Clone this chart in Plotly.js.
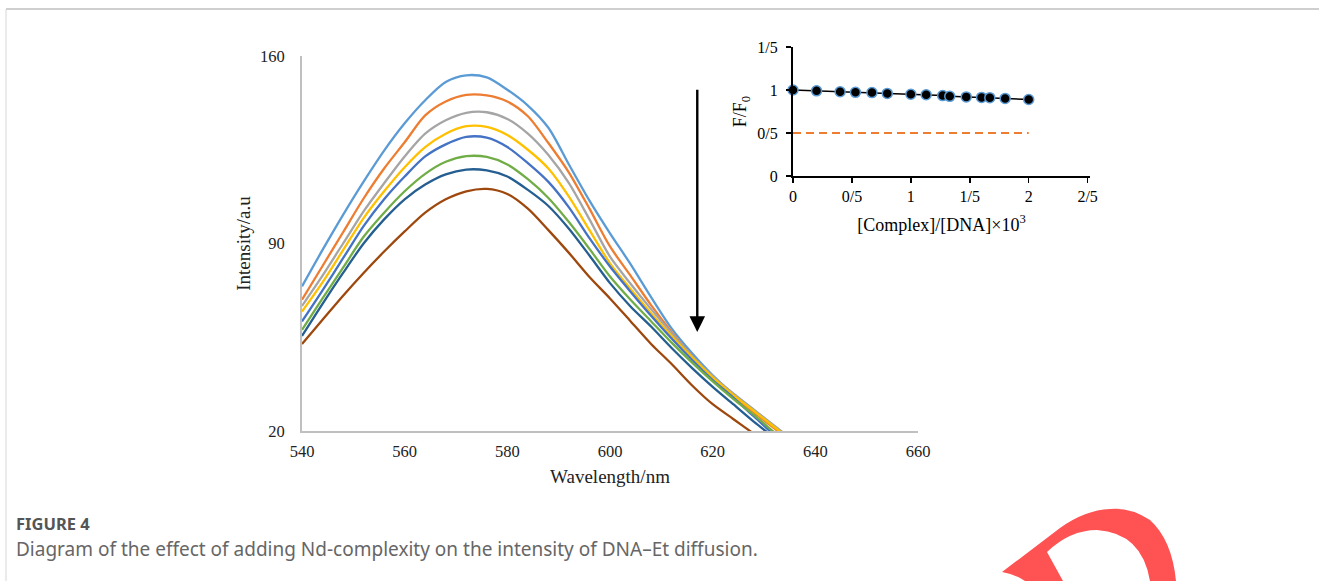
<!DOCTYPE html>
<html>
<head>
<meta charset="utf-8">
<script src="https://cdn.plot.ly/plotly-3.0.1.min.js"></script>
<style>
  html, body { margin: 0; padding: 0; background: #ffffff; }
  #chart { width: 1319px; height: 581px; }
</style>
</head>
<body>
<div id="chart"></div>
<script>
// ---------- main spectra data ----------
const wavelength = [540, 544, 548, 552, 556, 560, 564, 568, 572, 576, 580, 584, 588, 592, 596, 600, 604, 608, 612, 616, 620, 624, 628, 632, 636];
const intensity1 = [74.0, 87.6, 100.7, 113.1, 124.7, 134.9, 143.5, 150.3, 152.8, 152.0, 147.4, 141.5, 133.2, 119.5, 106.0, 93.8, 82.3, 70.0, 58.3, 49.0, 40.8, 33.8, 27.9, 21.7, 15.0];
const intensity2 = [69.0, 81.6, 94.2, 106.8, 118.0, 127.8, 137.8, 143.0, 145.5, 145.3, 143.0, 137.5, 127.5, 116.5, 103.0, 88.9, 78.0, 67.0, 57.0, 48.0, 40.0, 33.0, 27.0, 21.0, 15.0];
const intensity3 = [66.7, 78.0, 90.0, 102.0, 112.5, 122.5, 131.0, 136.0, 138.8, 139.0, 136.5, 131.0, 123.0, 112.5, 99.0, 85.1, 75.0, 65.5, 56.5, 48.0, 40.5, 34.0, 28.0, 22.0, 16.0];
const intensity4 = [64.6, 75.5, 87.5, 99.5, 109.5, 118.5, 126.0, 131.0, 133.8, 133.5, 130.5, 125.0, 118.0, 107.5, 95.0, 82.6, 73.0, 64.0, 55.5, 47.5, 40.0, 33.5, 27.5, 21.5, 15.5];
const intensity5 = [60.9, 72.5, 84.5, 96.5, 106.5, 115.0, 122.5, 127.0, 129.8, 129.5, 126.0, 120.0, 113.0, 103.5, 92.0, 81.4, 72.0, 63.0, 54.5, 46.5, 39.0, 32.5, 25.5, 18.5, 12.0];
const intensity6 = [57.8, 69.5, 81.0, 92.5, 101.5, 109.5, 116.0, 120.5, 122.6, 122.3, 119.5, 114.0, 107.0, 98.0, 88.0, 77.7, 69.0, 61.0, 53.0, 45.5, 38.5, 32.0, 26.0, 19.5, 13.0];
const intensity7 = [55.5, 67.5, 79.0, 90.0, 99.0, 106.5, 112.0, 115.8, 117.6, 117.3, 115.0, 110.0, 104.0, 95.5, 85.5, 75.2, 66.5, 59.0, 51.0, 43.5, 36.5, 30.0, 23.5, 17.5, 11.5];
const intensity8 = [52.5, 61.5, 70.5, 79.0, 87.0, 94.5, 101.5, 106.5, 109.5, 110.4, 108.5, 103.0, 95.0, 86.5, 77.5, 69.5, 61.0, 52.5, 45.0, 37.0, 30.0, 24.5, 19.0, 13.5, 8.0];

const mainXTicks = [540, 560, 580, 600, 620, 640, 660];
const mainYTicks = [20, 90, 160];

// arrow (start / end intensity at the arrow wavelength)
const arrowWavelength = [617];
const arrowFrom = [148];
const arrowTo = [57];

// ---------- inset data ----------
const ratio = [0, 0.2, 0.4, 0.53, 0.67, 0.8, 1.0, 1.13, 1.27, 1.33, 1.47, 1.6, 1.67, 1.8, 2.0];
const fOverF0 = [1.0, 0.99, 0.98, 0.973, 0.97, 0.96, 0.95, 0.945, 0.935, 0.926, 0.92, 0.914, 0.911, 0.902, 0.89];
const refLineX = [0, 2];
const refLineY = [0.5, 0.5];
const insetXTicks = [0, 0.5, 1, 1.5, 2, 2.5];
const insetXTickText = ['0', '0/5', '1', '1/5', '2', '2/5'];
const insetYTicks = [0, 0.5, 1, 1.5];
const insetYTickText = ['0', '0/5', '1', '1/5'];

// ---------- styling ----------
const W = 1319, H = 581;
const serif = 'Liberation Serif, Times New Roman, serif';
const sans = 'Noto Sans, Open Sans, sans-serif';
const seriesColors = ['#5B9BD5', '#ED7D31', '#A5A5A5', '#FFC000', '#4472C4', '#70AD47', '#255E91', '#9E480E'];
const seriesData = [intensity1, intensity2, intensity3, intensity4, intensity5, intensity6, intensity7, intensity8];

const px = x => x / W;
const py = y => 1 - y / H;

const traces = seriesData.map((ys, i) => ({
  type: 'scatter', mode: 'lines', x: wavelength, y: ys,
  line: { color: seriesColors[i], width: 2.3, shape: 'spline', smoothing: 0.8 },
  xaxis: 'x', yaxis: 'y', hoverinfo: 'skip', showlegend: false
}));

traces.push({
  type: 'scatter', mode: 'lines', x: refLineX, y: refLineY,
  line: { color: '#ED7D31', width: 2, dash: '8px,5px' },
  xaxis: 'x2', yaxis: 'y2', showlegend: false, hoverinfo: 'skip'
});
traces.push({
  type: 'scatter', mode: 'lines+markers', x: ratio, y: fOverF0,
  line: { color: '#000000', width: 1.5 },
  marker: { color: '#000000', size: 10, line: { color: '#5B9BD5', width: 1.5 } },
  xaxis: 'x2', yaxis: 'y2', showlegend: false, hoverinfo: 'skip', cliponaxis: false
});

// decorative watermark path (pixel coords -> paper)
function pathFromPx(cmds) {
  return cmds.map(c => {
    if (c[0] === 'Z') return 'Z';
    const op = c[0];
    const nums = c.slice(1);
    const out = [];
    for (let i = 0; i < nums.length; i += 2) out.push(px(nums[i]).toFixed(5) + ',' + py(nums[i + 1]).toFixed(5));
    return op + ' ' + out.join(' ');
  }).join(' ');
}
const logoPath = pathFromPx([
  ['M', 1002, 572], ['Q', 1015, 574, 1025, 581], ['L', 1063, 581], ['L', 1047, 552],
  ['Q', 1070, 530, 1097, 530], ['Q', 1142, 533, 1150, 581], ['L', 1176, 581],
  ['Q', 1172, 540, 1150, 520], ['Q', 1130, 507, 1110, 509], ['Q', 1085, 510, 1060, 528], ['Z']
]);

const layout = {
  width: W, height: H,
  margin: { l: 0, r: 0, t: 0, b: 0 },
  paper_bgcolor: '#ffffff', plot_bgcolor: 'rgba(0,0,0,0)',
  showlegend: false,
  font: { family: serif, color: '#000000' },
  xaxis: {
    domain: [px(302), px(918)], range: [540, 660], anchor: 'y',
    tickvals: mainXTicks, showgrid: false, zeroline: false,
    showline: true, linecolor: '#BFBFBF', linewidth: 2, ticks: '',
    ticklabelstandoff: 4,
    tickfont: { family: serif, size: 16.5, color: '#222222' },
    title: { text: 'Wavelength/nm', font: { family: serif, size: 19, color: '#222222' }, standoff: 10 }
  },
  yaxis: {
    domain: [py(431), py(56)], range: [20, 160], anchor: 'x',
    tickvals: mainYTicks, showgrid: false, zeroline: false,
    showline: true, linecolor: '#BFBFBF', linewidth: 2, ticks: '',
    ticklabelstandoff: 12,
    tickfont: { family: serif, size: 16.5, color: '#222222' },
    title: { text: 'Intensity/a.u', font: { family: serif, size: 19, color: '#222222' }, standoff: 4 }
  },
  xaxis2: {
    domain: [px(793), px(1090)], range: [0, 2.52], anchor: 'y2',
    tickvals: insetXTicks, ticktext: insetXTickText, showgrid: false, zeroline: false,
    showline: true, linecolor: '#000000', linewidth: 2,
    ticks: 'outside', ticklen: 5, tickwidth: 1.5, tickcolor: '#000000',
    ticklabelstandoff: 0,
    tickfont: { family: serif, size: 16, color: '#000000' },
    title: { text: '[Complex]/[DNA]×10<sup>3</sup>', font: { family: serif, size: 18, color: '#000000' }, standoff: 14 }
  },
  yaxis2: {
    domain: [py(176), py(47)], range: [0, 1.5], anchor: 'x2',
    tickvals: insetYTicks, ticktext: insetYTickText, showgrid: false, zeroline: false,
    showline: true, linecolor: '#000000', linewidth: 2,
    ticks: 'outside', ticklen: 5, tickwidth: 1.5, tickcolor: '#000000',
    ticklabelstandoff: 5,
    tickfont: { family: serif, size: 16, color: '#000000' },
    title: { text: 'F/F<sub>0</sub>', font: { family: serif, size: 18, color: '#000000' }, standoff: 6 }
  },
  annotations: [
    {
      x: arrowWavelength[0], y: arrowTo[0], ax: arrowWavelength[0], ay: arrowFrom[0],
      xref: 'x', yref: 'y', axref: 'x', ayref: 'y', text: '', showarrow: true,
      arrowhead: 2, arrowsize: 1.3, arrowwidth: 2.4, arrowcolor: '#000000'
    },
    {
      x: px(14), y: py(523), xref: 'paper', yref: 'paper', xanchor: 'left', yanchor: 'middle',
      text: '<b>FIGURE 4</b>', showarrow: false,
      font: { family: sans, size: 16.5, color: '#555555' }
    },
    {
      x: px(14), y: py(549), xref: 'paper', yref: 'paper', xanchor: 'left', yanchor: 'middle',
      text: 'Diagram of the effect of adding Nd-complexity on the intensity of DNA–Et diffusion.', showarrow: false,
      font: { family: sans, size: 19, color: '#666666' }
    }
  ],
  shapes: [
    { type: 'line', xref: 'paper', yref: 'paper', x0: px(6), x1: 1, y0: py(9), y1: py(9), line: { color: '#CFCFCF', width: 2 } },
    { type: 'line', xref: 'paper', yref: 'paper', x0: px(6), x1: px(6), y0: py(9), y1: 0, line: { color: '#D6D6D6', width: 1 } },
    { type: 'path', xref: 'paper', yref: 'paper', path: logoPath, fillcolor: '#FF5252', line: { width: 0 } }
  ]
};

Plotly.newPlot('chart', traces, layout, { displayModeBar: false, staticPlot: true });
</script>
</body>
</html>
